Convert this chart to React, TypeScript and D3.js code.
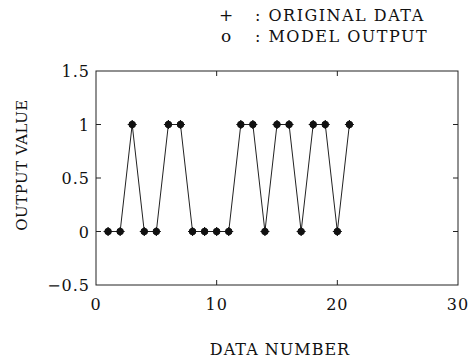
import React, { useEffect, useRef } from 'react';
import * as d3 from 'd3';

// values, data numbers 1..21
const dataNumber = [1, 2, 3, 4, 5, 6, 7, 8, 9, 10, 11, 12, 13, 14, 15, 16, 17, 18, 19, 20, 21];
const originalData = [0, 0, 1, 0, 0, 1, 1, 0, 0, 0, 0, 1, 1, 0, 1, 1, 0, 1, 1, 0, 1];
const modelOutput = [0, 0, 1, 0, 0, 1, 1, 0, 0, 0, 0, 1, 1, 0, 1, 1, 0, 1, 1, 0, 1];
const xTicks = [0, 10, 20, 30];
const yTicks = [-0.5, 0, 0.5, 1, 1.5];
const legendItems = [
  { sym: '+', label: 'ORIGINAL DATA' },
  { sym: 'o', label: 'MODEL OUTPUT' },
];

const App = () => {
  const svgRef = useRef<SVGSVGElement>(null);

  useEffect(() => {
    const W = 471, H = 360;
    const margin = { top: 71, right: 13, bottom: 75, left: 96 };
    const width = W - margin.left - margin.right;
    const height = H - margin.top - margin.bottom;
    const font = "'DejaVu Serif', serif";

    const root = d3.select(svgRef.current);
    root.selectAll('*').remove();
    root.attr('width', W).attr('height', H);

    const svg = root.append('g').attr('transform', `translate(${margin.left},${margin.top})`);

    const x = d3.scaleLinear().domain([0, 30]).range([0, width]);
    const y = d3.scaleLinear().domain([-0.5, 1.5]).range([height, 0]);

    // frame
    svg.append('rect')
      .attr('width', width).attr('height', height)
      .attr('fill', 'none').attr('stroke', '#222').attr('stroke-width', 1);

    // inward ticks on all sides
    const tk = 5;
    xTicks.slice(1, -1).forEach(t => {
      svg.append('line').attr('x1', x(t)).attr('x2', x(t)).attr('y1', height).attr('y2', height - tk).attr('stroke', '#222');
      svg.append('line').attr('x1', x(t)).attr('x2', x(t)).attr('y1', 0).attr('y2', tk).attr('stroke', '#222');
    });
    yTicks.slice(1, -1).forEach(t => {
      svg.append('line').attr('x1', 0).attr('x2', tk).attr('y1', y(t)).attr('y2', y(t)).attr('stroke', '#222');
      svg.append('line').attr('x1', width).attr('x2', width - tk).attr('y1', y(t)).attr('y2', y(t)).attr('stroke', '#222');
    });

    svg.selectAll('.xl').data(xTicks).enter().append('text')
      .attr('x', d => x(d)).attr('y', height + 25)
      .attr('text-anchor', 'middle')
      .style('font-family', font).style('font-size', '16px').style('letter-spacing', '1px').style('fill', '#111')
      .text(d => String(d));

    svg.selectAll('.yl').data(yTicks).enter().append('text')
      .attr('x', -6).attr('y', d => y(d) + 6)
      .attr('text-anchor', 'end')
      .style('font-family', font).style('font-size', '16px').style('letter-spacing', '1px').style('fill', '#111')
      .text(d => (d < 0 ? '\u2212' + Math.abs(d) : String(d)));

    // line through the model output
    const line = d3.line<number>()
      .x((d, i) => x(dataNumber[i]))
      .y(d => y(d));
    svg.append('path').datum(modelOutput)
      .attr('fill', 'none').attr('stroke', '#222').attr('stroke-width', 1)
      .attr('d', line);

    // model output: circles
    svg.selectAll('.mo').data(modelOutput).enter().append('circle')
      .attr('cx', (d, i) => x(dataNumber[i])).attr('cy', d => y(d))
      .attr('r', 3.3).attr('fill', '#111').attr('stroke', '#111');

    // original data: plus markers
    const s = 4.5;
    svg.selectAll('.od').data(originalData).enter().append('path')
      .attr('d', (d, i) => {
        const cx = x(dataNumber[i]), cy = y(d);
        return `M${cx - s},${cy}H${cx + s}M${cx},${cy - s}V${cy + s}`;
      })
      .attr('stroke', '#111').attr('stroke-width', 1.2);

    // axis titles
    root.append('text')
      .attr('x', 280).attr('y', 355)
      .attr('text-anchor', 'middle')
      .style('font-family', font).style('font-size', '16px').style('letter-spacing', '1px').style('fill', '#111')
      .text('DATA NUMBER');

    root.append('text')
      .attr('transform', `translate(27,165) rotate(-90)`)
      .attr('text-anchor', 'middle')
      .style('font-family', font).style('font-size', '15px').style('letter-spacing', '0.5px').style('fill', '#111')
      .text('OUTPUT VALUE');

    // legend
    const lg = root.append('g');
    legendItems.forEach((it, i) => {
      const ly = 21 + i * 21;
      lg.append('text').attr('x', 226).attr('y', ly).attr('text-anchor', 'middle')
        .style('font-family', font).style('font-size', '17px').style('fill', '#111').text(it.sym);
      lg.append('text').attr('x', 255).attr('y', ly)
        .style('font-family', font).style('font-size', '16px').style('letter-spacing', '1.5px').style('fill', '#111')
        .text(': ' + it.label);
    });
  }, []);

  return <svg ref={svgRef} style={{ position: 'absolute', left: 0, top: 0 }}></svg>;
};

export default App;
